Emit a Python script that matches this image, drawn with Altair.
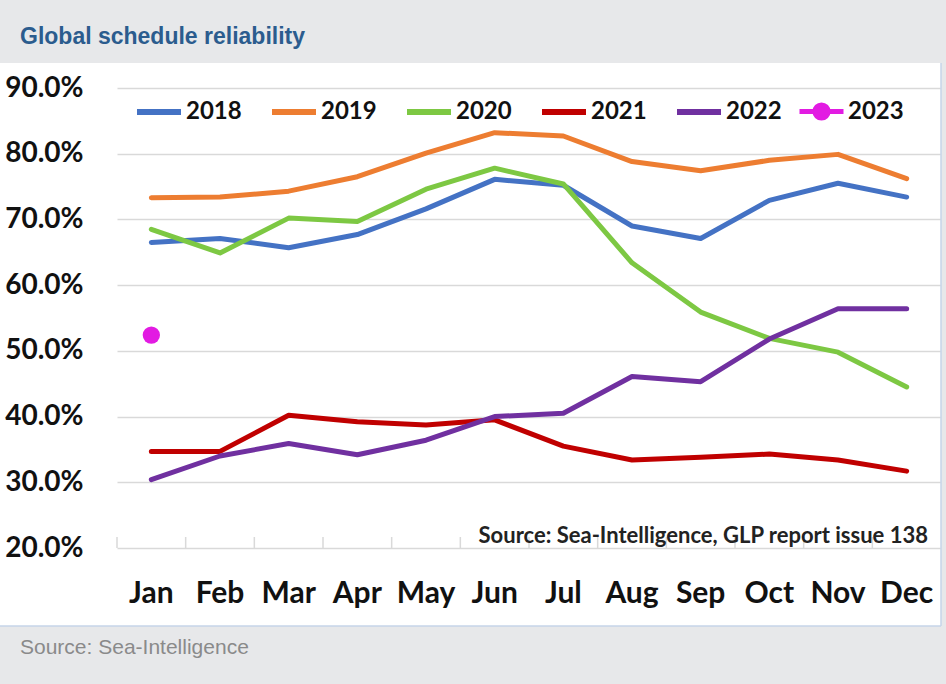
import altair as alt
import pandas as pd

# ---------------- data ----------------
months = ["Jan", "Feb", "Mar", "Apr", "May", "Jun", "Jul", "Aug", "Sep", "Oct", "Nov", "Dec"]
years = ["2018", "2019", "2020", "2021", "2022"]
y2018 = [66.5, 67.1, 65.7, 67.7, 71.6, 76.1, 75.2, 69.0, 67.1, 72.9, 75.5, 73.4]
y2019 = [73.3, 73.4, 74.3, 76.5, 80.1, 83.2, 82.7, 78.8, 77.4, 79.0, 79.9, 76.2]
y2020 = [68.5, 64.9, 70.2, 69.7, 74.6, 77.8, 75.4, 63.4, 55.9, 51.9, 49.8, 44.5]
y2021 = [34.7, 34.7, 40.2, 39.2, 38.7, 39.5, 35.5, 33.4, 33.8, 34.3, 33.4, 31.7]
y2022 = [30.4, 34.0, 35.9, 34.2, 36.4, 40.0, 40.5, 46.1, 45.3, 51.8, 56.4, 56.4]
months_2023 = ["Jan"]
y2023 = [52.4]
y_ticks = [20, 30, 40, 50, 60, 70, 80, 90]

title_text = "Global schedule reliability"
note_text = "Source: Sea-Intelligence, GLP report issue 138"
footer_text = "Source: Sea-Intelligence"

line_colors = ["#4472c4", "#ed7d31", "#7dc843", "#c00000", "#7030a0"]
color_2023 = "#e21be2"
gray_bg = "#e7e8ea"

series = [y2018, y2019, y2020, y2021, y2022]
rows = []
for yr, vals in zip(years, series):
    for m, v in zip(months, vals):
        rows.append({"month": m, "year": yr, "value": v})
df = pd.DataFrame(rows)
df23 = pd.DataFrame({"month": months_2023, "year": ["2023"] * len(y2023), "value": y2023})
df_months = pd.DataFrame({"month": months})
one = pd.DataFrame({"k": [0]})

W, H = 824, 460
PAD_L, PAD_T = 117, 88
FULL_W, FULL_H = 946, 684
PANEL_TOP, PANEL_BOTTOM, PANEL_RIGHT = 63, 626, 941

x_scale = alt.Scale(type="band", domain=months, paddingInner=0, paddingOuter=0)
y_scale = alt.Scale(domain=[20, 90], nice=False, zero=False)

x_axis = alt.Axis(title=None, labelAngle=0, ticks=False, domain=False, grid=False,
                  labelFont="Lato", labelFontSize=30, labelFontWeight="bold",
                  labelColor="#111111", labelPadding=30)
y_axis = alt.Axis(title=None, values=y_ticks, ticks=False, domain=False, grid=True,
                  gridColor="#d9d9d9", gridWidth=1.5,
                  labelFont="Lato", labelFontSize=28, labelFontWeight="bold",
                  labelColor="#111111", labelPadding=34,
                  labelExpr="format(datum.value, '.1f') + '%'")

# gray frame bands (title band, footer band, right strip) around the white panel
band_top = alt.Chart(one).mark_rect(color=gray_bg).encode(
    x=alt.value(-PAD_L), x2=alt.value(FULL_W - PAD_L),
    y=alt.value(-PAD_T), y2=alt.value(PANEL_TOP - PAD_T)
)
band_bottom = alt.Chart(one).mark_rect(color=gray_bg).encode(
    x=alt.value(-PAD_L), x2=alt.value(FULL_W - PAD_L),
    y=alt.value(PANEL_BOTTOM - PAD_T), y2=alt.value(FULL_H - PAD_T)
)
band_right = alt.Chart(one).mark_rect(color=gray_bg).encode(
    x=alt.value(PANEL_RIGHT - PAD_L), x2=alt.value(FULL_W - PAD_L),
    y=alt.value(-PAD_T), y2=alt.value(FULL_H - PAD_T)
)
border_r = alt.Chart(one).mark_rule(color="#c6d4e8", strokeWidth=1.5).encode(
    x=alt.value(PANEL_RIGHT - PAD_L), y=alt.value(PANEL_TOP - PAD_T), y2=alt.value(PANEL_BOTTOM - PAD_T)
)
border_b = alt.Chart(one).mark_rule(color="#c6d4e8", strokeWidth=1.5).encode(
    x=alt.value(-PAD_L), x2=alt.value(PANEL_RIGHT - PAD_L), y=alt.value(PANEL_BOTTOM - PAD_T)
)

ticks = alt.Chart(df_months).mark_rule(color="#d9d9d9", strokeWidth=1.5).encode(
    x=alt.X("month:N", sort=months, scale=x_scale, axis=x_axis, bandPosition=0),
    y=alt.value(H - 11), y2=alt.value(H)
)

lines = alt.Chart(df).mark_line(strokeWidth=5, strokeCap="round", strokeJoin="round").encode(
    x=alt.X("month:N", sort=months, scale=x_scale, axis=x_axis, bandPosition=0.5),
    y=alt.Y("value:Q", scale=y_scale, axis=y_axis),
    color=alt.Color("year:N", scale=alt.Scale(domain=years, range=line_colors),
                    legend=alt.Legend(orient="none", direction="horizontal", legendX=17, legendY=-1,
                                      title=None, symbolType="stroke", symbolSize=1936,
                                      symbolStrokeWidth=6, labelFont="Lato", labelFontSize=24,
                                      labelFontWeight="bold", labelColor="#111111",
                                      labelOffset=2, columnPadding=18, padding=0)),
    detail="year:N",
)

# 2023 series: a line layer (single month, so only the legend entry shows) ...
line23 = alt.Chart(df23).mark_line(strokeWidth=5, strokeCap="round").encode(
    x=alt.X("month:N", sort=months, scale=x_scale, axis=x_axis, bandPosition=0.5),
    y=alt.Y("value:Q", scale=y_scale, axis=y_axis),
    color=alt.Color("year:N", scale=alt.Scale(domain=["2023"], range=[color_2023]),
                    legend=alt.Legend(orient="none", direction="horizontal", legendX=680, legendY=-1,
                                      title=None,
                                      symbolType="M-1,0H1M-0.3,0A0.3,0.3,0,1,1,0.3,0A0.3,0.3,0,1,1,-0.3,0Z",
                                      symbolSize=1936, symbolStrokeWidth=5,
                                      symbolFillColor=color_2023,
                                      labelFont="Lato", labelFontSize=24,
                                      labelFontWeight="bold", labelColor="#111111",
                                      labelOffset=2, padding=0)),
)
# ... and its marker
pt = alt.Chart(df23).mark_circle(size=300, opacity=1, color=color_2023).encode(
    x=alt.X("month:N", sort=months, scale=x_scale, axis=x_axis, bandPosition=0.5),
    y=alt.Y("value:Q", scale=y_scale, axis=y_axis),
)

title = alt.Chart(one).mark_text(align="left", baseline="middle", font="Liberation Sans",
                                 fontSize=23, fontWeight="bold", color="#2b5c8e").encode(
    x=alt.value(20 - PAD_L), y=alt.value(37 - PAD_T), text=alt.value(title_text)
)
note = alt.Chart(one).mark_text(align="right", baseline="middle", font="Lato",
                                fontSize=22, fontWeight="bold", color="#222222").encode(
    x=alt.value(928 - PAD_L), y=alt.value(536 - PAD_T), text=alt.value(note_text)
)
footer = alt.Chart(one).mark_text(align="left", baseline="middle", font="Liberation Sans",
                                  fontSize=21, color="#8a8a8a").encode(
    x=alt.value(20 - PAD_L), y=alt.value(648 - PAD_T), text=alt.value(footer_text)
)

chart = alt.layer(band_top, band_bottom, band_right, border_r, border_b, ticks, lines, line23, pt,
                  title, note, footer).resolve_scale(
    color="independent"
).properties(
    width=W, height=H,
    background="white",
    padding={"left": PAD_L, "top": PAD_T, "right": FULL_W - PAD_L - W, "bottom": FULL_H - PAD_T - H},
    autosize=alt.AutoSizeParams(type="none"),
).configure_view(stroke=None)

chart.save("out.html", embed_options={"renderer": "svg", "actions": False})
